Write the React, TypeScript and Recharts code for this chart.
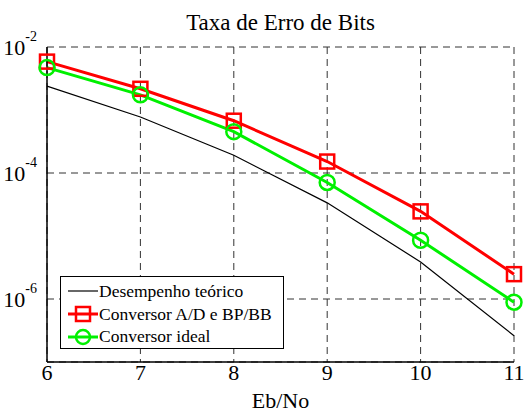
import { CartesianGrid, Line, LineChart, XAxis, YAxis } from "recharts";

const ebNo = [6, 7, 8, 9, 10, 11];
const theoretical = [2.39e-3, 7.73e-4, 1.91e-4, 3.36e-5, 3.87e-6, 2.61e-7];
const conversorAdBp = [5.86e-3, 2.17e-3, 6.76e-4, 1.52e-4, 2.46e-5, 2.48e-6];
const conversorIdeal = [4.71e-3, 1.74e-3, 4.53e-4, 7.08e-5, 8.57e-6, 8.9e-7];
const yTicks = [1e-6, 1e-4, 1e-2];

const data = ebNo.map((x, i) => ({
  x,
  teo: theoretical[i],
  adbp: conversorAdBp[i],
  ideal: conversorIdeal[i],
}));

const FONT = "'Liberation Serif', 'Times New Roman', serif";
const RED = "#ff0000";
const GREEN = "#00f000";

function SquareDot(props: any) {
  const { cx, cy, index } = props;
  if (cx == null || cy == null) return null;
  return (
    <rect key={`sq-${index}`} x={cx - 7} y={cy - 7} width={14} height={14}
      fill="none" stroke={RED} strokeWidth={2.5} />
  );
}

function CircleDot(props: any) {
  const { cx, cy, index } = props;
  if (cx == null || cy == null) return null;
  return (
    <circle key={`ci-${index}`} cx={cx} cy={cy} r={7.5}
      fill="none" stroke={GREEN} strokeWidth={2.5} />
  );
}

function YTick(props: any) {
  const { x, y, payload } = props;
  const exp = Math.round(Math.log10(payload.value));
  return (
    <text x={x - 2} y={y + 8} textAnchor="end" style={{ fontFamily: FONT }} fill="#000">
      <tspan fontSize={22}>10</tspan>
      <tspan fontSize={14} dy={-14}>{exp}</tspan>
    </text>
  );
}

function LegendBox() {
  const rows = [
    { label: "Desempenho teórico", color: "#000", w: 1.2, mark: null },
    { label: "Conversor A/D e BP/BB", color: RED, w: 3, mark: "sq" },
    { label: "Conversor ideal", color: GREEN, w: 3, mark: "ci" },
  ];
  return (
    <div style={{ position: "absolute", left: 60, top: 276, width: 224, height: 73,
      border: "1.5px solid #000", background: "#fff", boxSizing: "border-box",
      fontFamily: FONT, fontSize: 17.5, paddingTop: 3 }}>
      {rows.map((r) => (
        <div key={r.label} style={{ display: "flex", alignItems: "center", height: 22.7 }}>
          <svg width={38} height={20} style={{ marginLeft: 6 }}>
            <line x1={1} y1={10} x2={31} y2={10} stroke={r.color} strokeWidth={r.w} />
            {r.mark === "sq" && (
              <rect x={9} y={3} width={14} height={14} fill="none" stroke={RED} strokeWidth={2.5} />
            )}
            {r.mark === "ci" && (
              <circle cx={16} cy={10} r={7} fill="none" stroke={GREEN} strokeWidth={2.5} />
            )}
          </svg>
          <span style={{ marginLeft: -6, color: "#000", whiteSpace: "nowrap" }}>{r.label}</span>
        </div>
      ))}
    </div>
  );
}

export default function App() {
  return (
    <div style={{ position: "absolute", left: 0, top: 0, width: 528, height: 412, background: "#fff" }}>
      <div style={{ position: "absolute", left: 47, width: 467, top: 9, textAlign: "center",
        fontFamily: FONT, fontSize: 23, lineHeight: "28px", color: "#000" }}>
        Taxa de Erro de Bits
      </div>
      <LineChart width={528} height={412} data={data}
        margin={{ top: 47, right: 14, left: 0, bottom: 0 }}
        style={{ fontFamily: FONT }}>
        <CartesianGrid stroke="#333" strokeDasharray="7 5" strokeWidth={1} />
        <XAxis dataKey="x" type="number" domain={[6, 11]} ticks={ebNo}
          axisLine={{ stroke: "#000", strokeWidth: 1.5 }} tickLine={false} tickSize={0}
          tick={{ fontSize: 22, fontFamily: FONT, fill: "#000" }} tickMargin={2} height={50}
          label={{ value: "Eb/No", position: "insideBottom", offset: 4, fontSize: 22,
            fontFamily: FONT, fill: "#000" }} />
        <YAxis type="number" scale="log" domain={[1e-7, 1e-2]} ticks={yTicks}
          allowDataOverflow width={47} axisLine={{ stroke: "#000", strokeWidth: 1.5 }}
          tickLine={false} tick={<YTick />} />
        <Line dataKey="teo" stroke="#000" strokeWidth={1.2} dot={false} isAnimationActive={false} />
        <Line dataKey="adbp" stroke={RED} strokeWidth={3} dot={<SquareDot />} isAnimationActive={false} />
        <Line dataKey="ideal" stroke={GREEN} strokeWidth={3} dot={<CircleDot />} isAnimationActive={false} />
      </LineChart>
      <LegendBox />
    </div>
  );
}
